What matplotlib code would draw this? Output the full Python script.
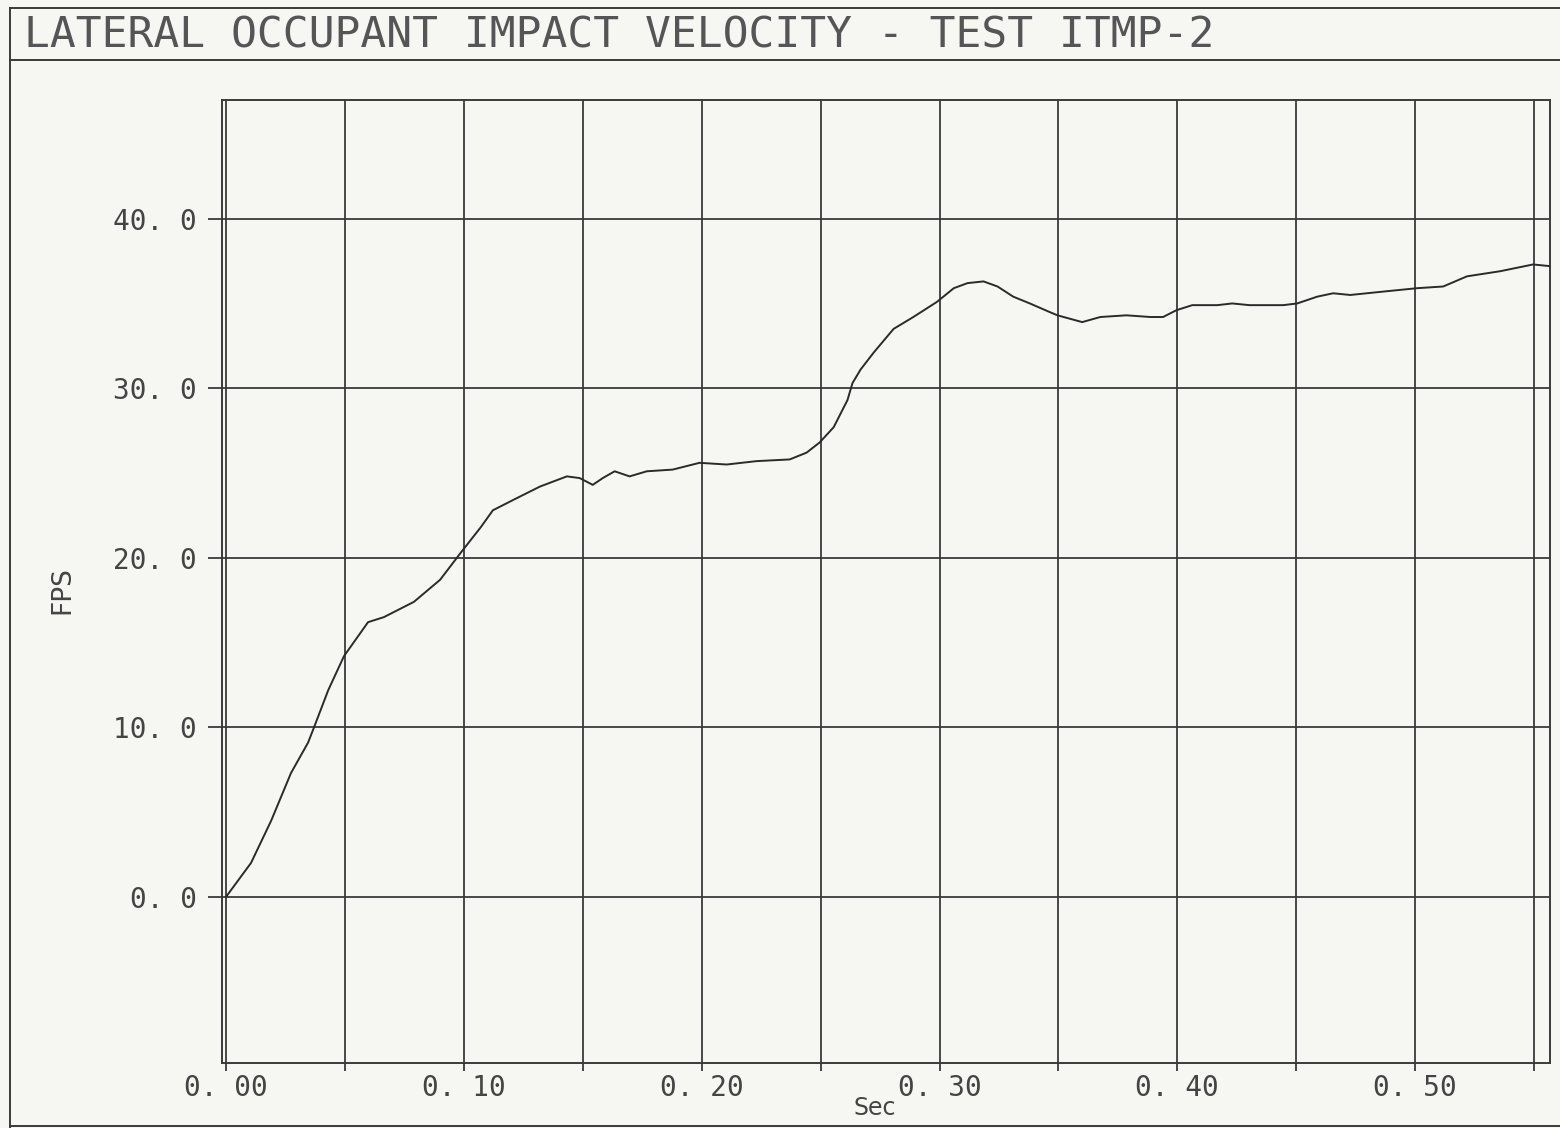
import numpy as np
import matplotlib.pyplot as plt
from matplotlib.lines import Line2D

# occupant velocity trace
t_sec = [0.0, 0.0105, 0.019, 0.0273, 0.0345, 0.037, 0.043, 0.0496, 0.0597,
         0.0664, 0.079, 0.090, 0.0987, 0.1071, 0.1122, 0.1206, 0.132,
         0.1433, 0.1487, 0.1542, 0.1584, 0.1634, 0.1697, 0.1769, 0.1878,
         0.1991, 0.2105, 0.2231, 0.237, 0.2441, 0.2496, 0.2555, 0.2613,
         0.2634, 0.2668, 0.2723, 0.2807, 0.289, 0.299, 0.306, 0.3118,
         0.3185, 0.3244, 0.331, 0.338, 0.3462, 0.3496, 0.360, 0.3676,
         0.3786, 0.3887, 0.394, 0.3996, 0.4063, 0.4168, 0.4231, 0.4303,
         0.4445, 0.4504, 0.4588, 0.4655, 0.4727, 0.4866, 0.5008, 0.5118,
         0.5218, 0.5357, 0.5496, 0.5567]
v_fps = [0.0, 2.0, 4.5, 7.3, 9.1, 10.0, 12.2, 14.2, 16.2,
         16.5, 17.4, 18.7, 20.3, 21.8, 22.8, 23.4, 24.2,
         24.8, 24.7, 24.3, 24.7, 25.1, 24.8, 25.1, 25.2,
         25.6, 25.5, 25.7, 25.8, 26.2, 26.8, 27.7, 29.3,
         30.3, 31.1, 32.1, 33.5, 34.2, 35.1, 35.9, 36.2,
         36.3, 36.0, 35.4, 35.0, 34.5, 34.3, 33.9, 34.2,
         34.3, 34.2, 34.2, 34.6, 34.9, 34.9, 35.0, 34.9,
         34.9, 35.0, 35.4, 35.6, 35.5, 35.7, 35.9, 36.0,
         36.6, 36.9, 37.3, 37.2]

x_grid = [0.0, 0.05, 0.10, 0.15, 0.20, 0.25, 0.30, 0.35, 0.40, 0.45, 0.50, 0.55]
x_labels = {0.0: "0. 00", 0.10: "0. 10", 0.20: "0. 20", 0.30: "0. 30",
            0.40: "0. 40", 0.50: "0. 50"}
y_ticks = [0.0, 10.0, 20.0, 30.0, 40.0]
y_labels = ["0. 0", "10. 0", "20. 0", "30. 0", "40. 0"]

title = "LATERAL OCCUPANT IMPACT VELOCITY - TEST ITMP-2"

W, H = 1560, 1128
ink = "#3a3a3a"
paper = "#f6f6f3"

fig = plt.figure(figsize=(W / 100, H / 100), dpi=100, facecolor=paper)

# page frame and title strip
fig.add_artist(Line2D([10 / W, 10 / W], [0, 1 - 8 / H], color=ink, lw=1.4))
fig.add_artist(Line2D([10 / W, 1], [1 - 8 / H, 1 - 8 / H], color=ink, lw=1.4))
fig.add_artist(Line2D([10 / W, 1], [1 - 60 / H, 1 - 60 / H], color=ink, lw=1.4))
fig.add_artist(Line2D([10 / W, 1], [1 - 1126 / H, 1 - 1126 / H], color=ink, lw=1.4))
fig.text(24 / W, 1 - 35 / H, title, family="DejaVu Sans Mono", fontsize=31,
         color="#555555", va="center", ha="left")

ax = fig.add_axes([222 / W, 1 - 1063 / H, (1550 - 222) / W, (1063 - 100) / H])
ax.set_facecolor(paper)
ax.set_xlim(-0.0017, 0.5567)
ax.set_ylim(-9.8, 47.0)

for xv in x_grid:
    ax.axvline(xv, color=ink, lw=1.3, zorder=1)
for yv in y_ticks:
    ax.axhline(yv, color=ink, lw=1.3, zorder=1)

ax.plot(t_sec, v_fps, color="#2a2a2a", lw=1.4, zorder=3)

for s in ax.spines.values():
    s.set_color(ink)
    s.set_linewidth(1.4)

ax.set_xticks(x_grid)
ax.set_xticklabels([x_labels.get(round(xv, 2), "") for xv in x_grid])
ax.set_yticks(y_ticks)
ax.set_yticklabels(y_labels)
ax.tick_params(axis="x", direction="out", length=6, width=1.3, color=ink,
               pad=2, labelsize=20, labelcolor="#444444")
ax.tick_params(axis="y", direction="out", length=10, width=1.3, color=ink,
               pad=8, labelsize=20, labelcolor="#444444")
for lab in ax.get_xticklabels() + ax.get_yticklabels():
    lab.set_family("DejaVu Sans Mono")

fig.text(875 / W, 1 - 1108 / H, "Sec", fontsize=17, color="#444444",
         ha="center", va="center")
fig.text(62 / W, 1 - 590 / H, "FPS", fontsize=19, color="#444444",
         ha="center", va="center", rotation=90)

fig.savefig("out.png", dpi=100, facecolor=paper)
